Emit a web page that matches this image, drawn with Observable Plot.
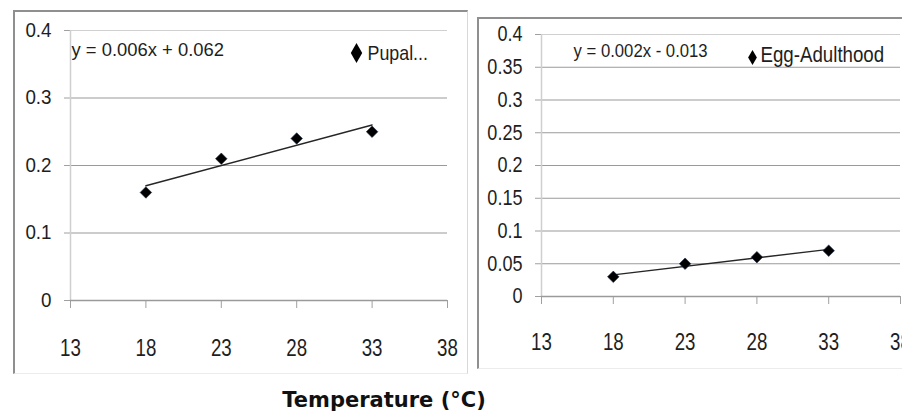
<!DOCTYPE html>
<html>
<head>
<meta charset="utf-8">
<script src="https://cdn.jsdelivr.net/npm/d3@7"></script>
<script src="https://cdn.jsdelivr.net/npm/@observablehq/plot@0.6"></script>
<style>
  html, body { margin: 0; padding: 0; background: #fff; }
  #root { position: relative; width: 902px; height: 419px; overflow: hidden; background: #fff; }
  .frame { position: absolute; box-sizing: border-box; }
  .panel { position: absolute; }
  #title { position: absolute; left: 0; width: 768px; top: 390px; line-height: 21px; text-align: center;
           font-family: "DejaVu Sans", sans-serif; font-weight: bold; font-size: 21px; color: #111; }
</style>
</head>
<body>
<div id="root">
  <div class="frame" style="left:13px;top:10px;width:455px;height:364px;border-left:2px solid #8f8f8f;border-top:2px solid #8f8f8f;border-right:1px solid #d8d8d8;border-bottom:1px solid #ececec;"></div>
  <div class="frame" style="left:477px;top:17px;width:440px;height:352px;border-left:2px solid #8f8f8f;border-top:2px solid #8f8f8f;border-bottom:1px solid #ececec;"></div>
  <div class="panel" id="left" style="left:15px;top:12px;"></div>
  <div class="panel" id="right" style="left:479px;top:19px;"></div>
  <div id="title"></div>
</div>
<script>
// ---- data ----
const temps = [18, 23, 28, 33];
const pupal = [0.16, 0.21, 0.24, 0.25];
const eggAdult = [0.03, 0.05, 0.06, 0.07];
const xTicks = [13, 18, 23, 28, 33, 38];
const yTicksLeft = [0, 0.1, 0.2, 0.3, 0.4];
const yTicksRight = [0, 0.05, 0.1, 0.15, 0.2, 0.25, 0.3, 0.35, 0.4];
const eqLeft = "y = 0.006x + 0.062";
const eqRight = "y = 0.002x - 0.013";
const legendLeft = "Pupal...";
const legendRight = "Egg-Adulthood";
const titleText = "Temperature (°C)";

const FONT = '"Liberation Sans", Arial, sans-serif';
const TXT = "#1e1e1e";

function panel(o) {
  const rows = temps.map((t, i) => ({t, v: o.values[i]}));
  const top = o.yTicks[o.yTicks.length - 1];
  return Plot.plot({
    width: o.width, height: o.height,
    marginLeft: o.ml, marginRight: o.mr, marginTop: o.mt, marginBottom: o.mb,
    style: {fontFamily: FONT, background: "transparent", color: "#a0a0a0"},
    x: {domain: [xTicks[0], xTicks[xTicks.length - 1]], ticks: xTicks, tickSize: 8, tickFormat: () => "", label: null},
    y: {domain: [0, top], ticks: o.yTicks, tickSize: 6, tickFormat: () => "", label: null},
    marks: [
      Plot.ruleY(o.yTicks.filter(d => d > 0 && d < top), {y: d => d, stroke: "#9a9a9a", strokeWidth: 1.2}),
      Plot.ruleY(o.yTicks.filter(d => d === top), {y: d => d, stroke: "#d0d0d0", strokeWidth: 1.2}),
      Plot.ruleX([xTicks[0]], {x: d => d, y1: 0, y2: top, stroke: "#cfcfcf", strokeWidth: 1.5}),
      Plot.ruleY([0], {y: d => d, stroke: "#9a9a9a", strokeWidth: 1.5}),
      Plot.text(xTicks, {x: d => d, text: d => String(d), frameAnchor: "bottom", lineAnchor: "top",
        dy: o.xdy, fontSize: 24, fill: TXT}),
      Plot.text(o.yTicks, {y: d => d, text: d => String(d), frameAnchor: "left", textAnchor: "end",
        dx: -19, fontSize: o.yfs, fill: TXT}),
      Plot.linearRegressionY(rows, {x: "t", y: "v", ci: 0, stroke: "#262626", strokeWidth: 1.4}),
      Plot.dot(rows, {x: "t", y: "v", symbol: "diamond2", r: 5.2, fill: "#000", stroke: "#1c2f4a", strokeWidth: 0.6}),
      Plot.text([o.eq], {text: d => d, frameAnchor: "top-left", textAnchor: "start", lineAnchor: "top",
        dx: o.eqdx, dy: o.eqdy, fontSize: 19, fill: TXT}),
      Plot.dot([o.legend], {frameAnchor: o.legAnchor, dx: o.ldx, dy: o.ldy, symbol: "diamond", r: o.lr, fill: "#000"}),
      Plot.text([o.legend], {text: d => d, frameAnchor: o.legAnchor, textAnchor: "start", lineAnchor: "top",
        dx: o.ltdx, dy: o.ltdy, fontSize: o.lfs, fill: TXT})
    ]
  });
}

// condense glyphs horizontally around each text's anchor (the reference uses a narrow face)
function condense(svg, o, f) {
  const xs = xTicks.map(String), ys = o.yTicks.map(String);
  svg.querySelectorAll("text").forEach(t => {
    const c = t.textContent;
    const k = xs.includes(c) ? f.x : ys.includes(c) ? f.y : c === o.eq ? f.eq : c === o.legend ? f.leg : 1;
    const tr = t.getAttribute("transform") || "";
    t.setAttribute("transform", (tr + ` scale(${k},1)`).trim());
  });
}

const leftOpts = {
  values: pupal, yTicks: yTicksLeft, width: 451, height: 360,
  ml: 55, mr: 19, mt: 18, mb: 72, xdy: 38, yfs: 20,
  eq: eqLeft, eqdx: 1, eqdy: 12,
  legend: legendLeft, legAnchor: "top-right", ldx: -91, ldy: 22.5, lr: 6, ltdx: -80, ltdy: 15, lfs: 21
};
const left = panel(leftOpts);
document.getElementById("left").appendChild(left);
condense(left, leftOpts, {x: 0.78, y: 0.94, eq: 0.97, leg: 0.85});

const rightOpts = {
  values: eggAdult, yTicks: yTicksRight, width: 423, height: 348,
  ml: 62, mr: 2, mt: 15, mb: 71, xdy: 36, yfs: 21.5,
  eq: eqRight, eqdx: 32, eqdy: 9,
  legend: legendRight, legAnchor: "top-left", ldx: 211, ldy: 23, lr: 4.6, ltdx: 219, ltdy: 12, lfs: 22
};
const right = panel(rightOpts);
document.getElementById("right").appendChild(right);
condense(right, rightOpts, {x: 0.78, y: 0.84, eq: 0.88, leg: 0.85});

document.getElementById("title").textContent = titleText;
</script>
</body>
</html>
